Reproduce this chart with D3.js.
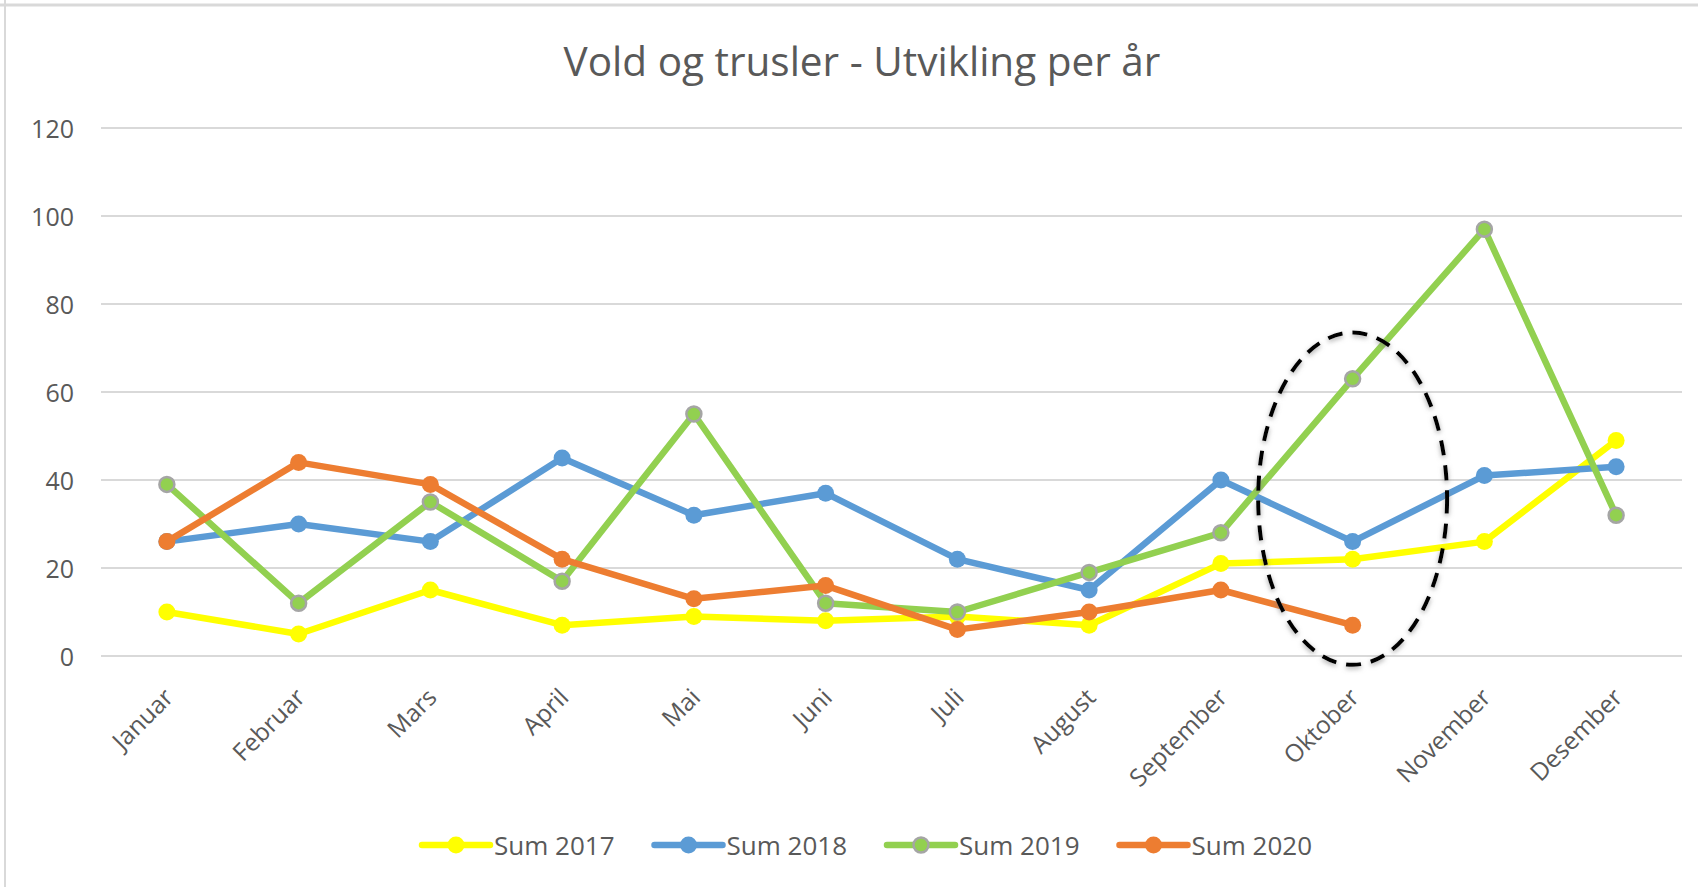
<!DOCTYPE html>
<meta charset="utf-8">
<script src="https://d3js.org/d3.v7.min.js"></script>
<style>
  body { margin: 0; background: #fff; }
  text { font-family: "Open Sans", sans-serif; fill: #595959; }
</style>
<div id="chart"></div>
<script>
// data
var months = ["Januar", "Februar", "Mars", "April", "Mai", "Juni",
              "Juli", "August", "September", "Oktober", "November", "Desember"];
var sum2017 = [10, 5, 15, 7, 9, 8, 9, 7, 21, 22, 26, 49];
var sum2018 = [26, 30, 26, 45, 32, 37, 22, 15, 40, 26, 41, 43];
var sum2019 = [39, 12, 35, 17, 55, 12, 10, 19, 28, 63, 97, 32];
var sum2020 = [26, 44, 39, 22, 13, 16, 6, 10, 15, 7, null, null];
var seriesNames = ["Sum 2017", "Sum 2018", "Sum 2019", "Sum 2020"];
var yTicks = [0, 20, 40, 60, 80, 100, 120];
var circledMonth = "Oktober";
var circledRange = [-2, 73.5];

var width = 1698, height = 887;
var colors = ["#FFFF00", "#5B9BD5", "#92D050", "#ED7D31"];
var markerStroke = [null, null, "#A5A5A5", null];

var svg = d3.select("#chart").append("svg")
    .attr("width", width)
    .attr("height", height);

// partial frame (top + left)
svg.append("line").attr("x1", 0).attr("x2", width).attr("y1", 5).attr("y2", 5)
    .attr("stroke", "#D9D9D9").attr("stroke-width", 3);
svg.append("line").attr("x1", 5).attr("x2", 5).attr("y1", 0).attr("y2", height)
    .attr("stroke", "#D9D9D9").attr("stroke-width", 2);

var x = d3.scalePoint().domain(months).range([101, 1682]).padding(0.5);
var y = d3.scaleLinear().domain([0, 120]).range([656, 128]);

svg.append("text")
    .attr("x", 862).attr("y", 76)
    .attr("text-anchor", "middle")
    .style("font-size", "40.5px")
    .text("Vold og trusler - Utvikling per år");

// gridlines
svg.append("g").selectAll("line").data(yTicks).join("line")
    .attr("x1", 101).attr("x2", 1682)
    .attr("y1", d => y(d)).attr("y2", d => y(d))
    .attr("stroke", "#D9D9D9").attr("stroke-width", 2);

svg.append("g").selectAll("text").data(yTicks).join("text")
    .attr("x", 74).attr("y", d => y(d))
    .attr("text-anchor", "end")
    .attr("dominant-baseline", "central")
    .style("font-size", "25px")
    .text(d => d);

// month labels
svg.append("g").selectAll("text").data(months).join("text")
    .attr("text-anchor", "end")
    .attr("transform", d => "translate(" + (x(d) + 8) + ",699) rotate(-45)")
    .style("font-size", "24.5px")
    .text(d => d);

var series = [sum2017, sum2018, sum2019, sum2020];
var line = d3.line()
    .defined(d => d.v != null)
    .x(d => x(d.m))
    .y(d => y(d.v));

series.forEach(function(vals, i) {
  var pts = vals.map((v, j) => ({m: months[j], v: v}));
  var g = svg.append("g");
  g.append("path")
      .attr("d", line(pts))
      .attr("fill", "none")
      .attr("stroke", colors[i])
      .attr("stroke-width", 6.5)
      .attr("stroke-linejoin", "round");
  g.selectAll("circle").data(pts.filter(d => d.v != null)).join("circle")
      .attr("cx", d => x(d.m))
      .attr("cy", d => y(d.v))
      .attr("r", markerStroke[i] ? 7.5 : 8.5)
      .attr("fill", colors[i])
      .attr("stroke", markerStroke[i] || "none")
      .attr("stroke-width", 2.5);
});

// dashed ellipse annotation
var defs = svg.append("defs");
var f = defs.append("filter").attr("id", "shadow")
    .attr("x", "-20%").attr("y", "-20%").attr("width", "140%").attr("height", "140%");
f.append("feDropShadow").attr("dx", 0).attr("dy", 2).attr("stdDeviation", 2.5)
    .attr("flood-color", "#808080").attr("flood-opacity", 0.7);

var step = x.step();
svg.append("ellipse")
    .attr("cx", x(circledMonth))
    .attr("cy", (y(circledRange[0]) + y(circledRange[1])) / 2)
    .attr("rx", step * 0.717)
    .attr("ry", (y(circledRange[0]) - y(circledRange[1])) / 2)
    .attr("fill", "none")
    .attr("stroke", "#000")
    .attr("stroke-width", 4)
    .attr("stroke-dasharray", "15 10")
    .attr("filter", "url(#shadow)");

// legend
var legend = svg.append("g");
var lx = 0;
seriesNames.forEach(function(name, i) {
  var it = legend.append("g").attr("transform", "translate(" + lx + ",0)");
  it.append("line").attr("x1", 0).attr("x2", 68).attr("y1", 0).attr("y2", 0)
      .attr("stroke", colors[i]).attr("stroke-width", 6.5).attr("stroke-linecap", "round");
  it.append("circle").attr("cx", 34).attr("cy", 0)
      .attr("r", markerStroke[i] ? 7.5 : 8.5)
      .attr("fill", colors[i])
      .attr("stroke", markerStroke[i] || "none")
      .attr("stroke-width", 2.5);
  var t = it.append("text").attr("x", 72).attr("y", 0)
      .attr("dominant-baseline", "central")
      .style("font-size", "26px")
      .text(name);
  lx += 72 + t.node().getComputedTextLength() + 40;
});
lx -= 40;
legend.attr("transform", "translate(" + (867 - lx / 2) + ",845)");
</script>
